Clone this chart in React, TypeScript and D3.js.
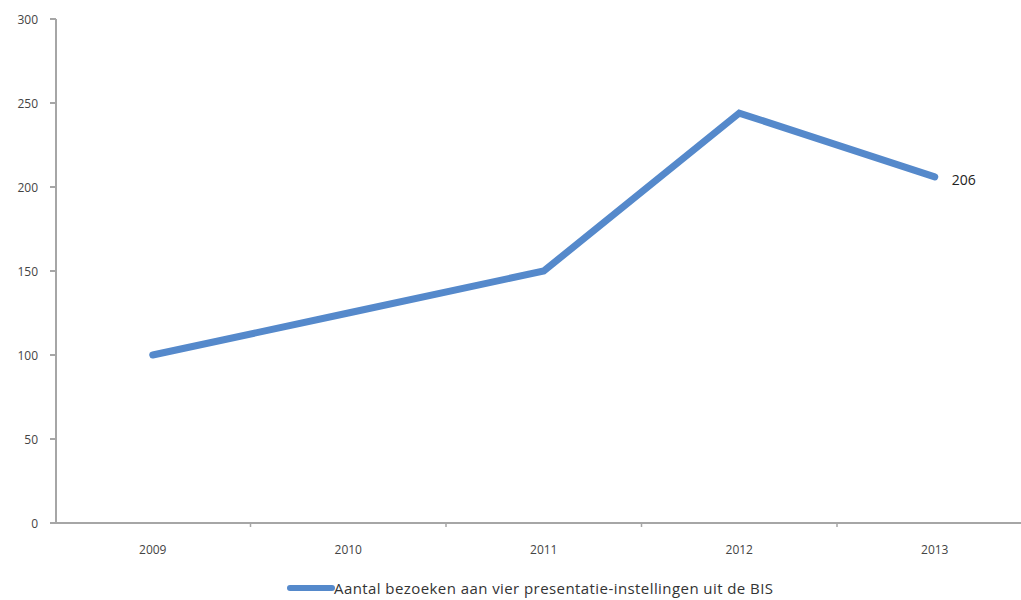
import React from "react";
import * as d3 from "d3";

const years = ["2009", "2010", "2011", "2012", "2013"];
const visits = [100, 125, 150, 244, 206];
const yTicks = [0, 50, 100, 150, 200, 250, 300];
const seriesName = "Aantal bezoeken aan vier presentatie-instellingen uit de BIS";
const lastLabel = "206";

export default function App() {
  const W = 1021, H = 600;
  const x0 = 55, xEnd = 1032.5;
  const yTop = 19, yBottom = 523;
  const x = d3.scaleBand().domain(years).range([x0, xEnd]);
  const y = d3.scaleLinear().domain([0, 300]).range([yBottom, yTop]);
  const line = d3.line<number>()
    .x((_, i) => (x(years[i]) as number) + x.bandwidth() / 2)
    .y((d) => y(d));
  const font = "'Open Sans', 'DejaVu Sans', sans-serif";
  const axisColor = "#a6a6a6";
  const lineColor = "#5589cb";
  const lastX = (x(years[years.length - 1]) as number) + x.bandwidth() / 2;
  const lastY = y(visits[visits.length - 1]);
  return (
    <svg width={W} height={H} style={{ position: "absolute", left: 0, top: 0, background: "#fff" }}>
      {/* y axis */}
      <line x1={56} x2={56} y1={yTop} y2={yBottom} stroke={axisColor} strokeWidth={2} />
      {yTicks.map((t) => (
        <g key={t}>
          <line x1={50} x2={56} y1={y(t)} y2={y(t)} stroke={axisColor} strokeWidth={2} />
          <text x={38} y={y(t) + 5} textAnchor="end" fontFamily={font} fontSize={12} fill="#444">{t}</text>
        </g>
      ))}
      {/* x axis */}
      <line x1={55} x2={W} y1={yBottom} y2={yBottom} stroke={axisColor} strokeWidth={2} />
      {years.map((yr, i) => (
        <g key={yr}>
          {i > 0 && (
            <line x1={x(yr) as number} x2={x(yr) as number} y1={yBottom} y2={yBottom + 4} stroke={axisColor} strokeWidth={1.5} />
          )}
          <text x={(x(yr) as number) + x.bandwidth() / 2} y={554} textAnchor="middle" fontFamily={font} fontSize={12} fill="#444">{yr}</text>
        </g>
      ))}
      <path d={line(visits) || ""} fill="none" stroke={lineColor} strokeWidth={7} strokeLinejoin="miter" strokeLinecap="round" />
      <text x={lastX + 17} y={lastY + 8} fontFamily={font} fontSize={14} fill="#222">{lastLabel}</text>
      {/* legend */}
      <line x1={290} x2={332} y1={588} y2={588} stroke={lineColor} strokeWidth={6} strokeLinecap="round" />
      <text x={334} y={594} fontFamily={font} fontSize={15} textLength={439} lengthAdjust="spacing" fill="#333">{seriesName}</text>
    </svg>
  );
}
